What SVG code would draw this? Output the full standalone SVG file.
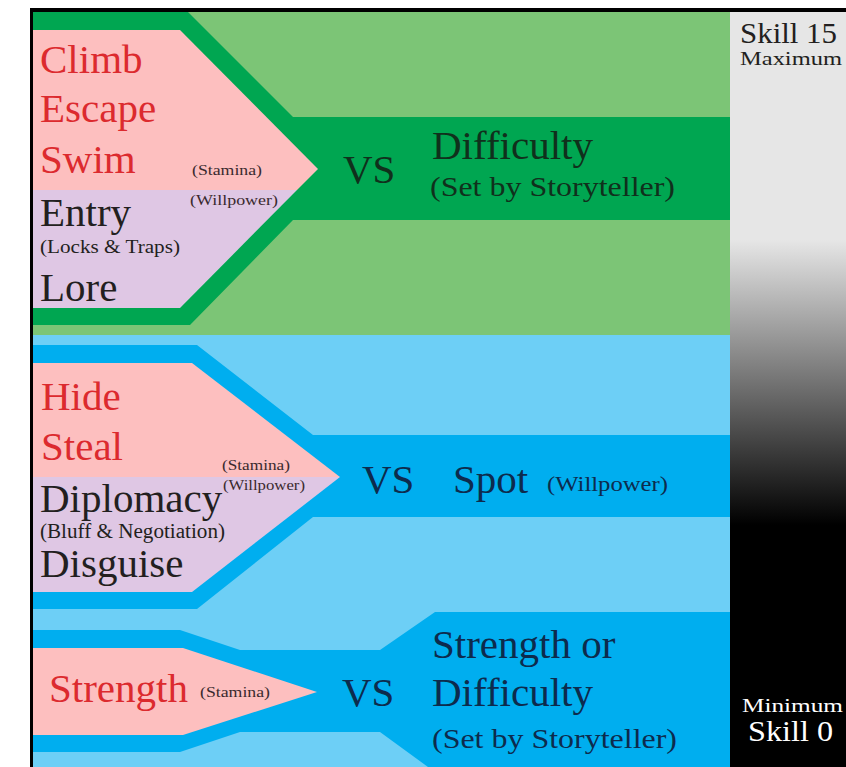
<svg xmlns="http://www.w3.org/2000/svg" width="846" height="767" viewBox="0 0 846 767">
<defs>
<linearGradient id="skillGrad" gradientUnits="userSpaceOnUse" x1="0" y1="240" x2="0" y2="525">
<stop offset="0" stop-color="#e6e6e6"/>
<stop offset="1" stop-color="#000000"/>
</linearGradient>
<style>
text{font-family:"Liberation Serif","Times New Roman",serif;}
.big{font-size:41px;}
.red{fill:#dc2a2e;}
.dk{fill:#231f20;}
.gtx{fill:#10301c;}
.btx{fill:#0d2b4d;}
.sm{font-size:15px;fill:#3a2a2e;}
.lg-green{fill:#7cc576;}
.dk-green{fill:#00a651;}
.lg-blue{fill:#6dcff6;}
.dk-blue{fill:#00aeef;}
.pink{fill:#fdbfbf;}
.lav{fill:#dfc7e4;}
</style>
</defs>
<rect x="0" y="0" width="846" height="767" fill="#ffffff"/>

<g id="backgrounds">
<rect class="lg-green" x="33" y="12" width="697" height="323"/>
<rect class="lg-blue" x="33" y="335" width="697" height="432"/>
</g>

<g id="connectors">
<polygon class="dk-green" points="33,12 188,12 293,117 730,117 730,220 293,220 190,325 33,325"/>
<polygon class="dk-blue" points="33,345 197,345 313,435 730,435 730,517 313,517 197,609 33,609"/>
<polygon class="dk-blue" points="33,630 180,630 240,650 380,650 435,612 730,612 730,767 428,767 380,732 240,732 180,752 33,752"/>
</g>

<g id="skills-physical">
<polygon class="pink" points="33,30 180,30 318,169 297,190 33,190"/>
<polygon class="lav" points="33,190 297,190 180,308 33,308"/>
<text class="big red" x="40" y="73">Climb</text>
<text class="big red" x="40" y="122">Escape</text>
<text class="big red" x="40" y="173">Swim</text>
<text class="sm" x="192" y="175" textLength="70" lengthAdjust="spacingAndGlyphs">(Stamina)</text>
<text class="sm" x="190" y="205" textLength="88" lengthAdjust="spacingAndGlyphs">(Willpower)</text>
<text class="big dk" x="40" y="226">Entry</text>
<text class="dk" x="40" y="253" font-size="19" textLength="140" lengthAdjust="spacingAndGlyphs">(Locks &amp; Traps)</text>
<text class="big dk" x="40" y="301">Lore</text>
</g>

<g id="opposition-difficulty">
<text class="big gtx" x="343" y="183">VS</text>
<text class="big gtx" x="432" y="159">Difficulty</text>
<text class="gtx" x="430" y="196" font-size="27" textLength="245" lengthAdjust="spacingAndGlyphs">(Set by Storyteller)</text>
</g>

<g id="skills-social">
<polygon class="pink" points="33,363 192,363 340,477 33,477"/>
<polygon class="lav" points="33,477 340,477 192,592 33,592"/>
<text class="big red" x="41" y="410">Hide</text>
<text class="big red" x="41" y="460">Steal</text>
<text class="sm" x="222" y="470" textLength="68" lengthAdjust="spacingAndGlyphs">(Stamina)</text>
<text class="sm" x="223" y="490" textLength="82" lengthAdjust="spacingAndGlyphs">(Willpower)</text>
<text class="big dk" x="40" y="512">Diplomacy</text>
<text class="dk" x="40" y="538" font-size="20" textLength="185" lengthAdjust="spacingAndGlyphs">(Bluff &amp; Negotiation)</text>
<text class="big dk" x="40" y="577">Disguise</text>
</g>

<g id="opposition-spot">
<text class="big btx" x="362" y="493">VS</text>
<text class="big btx" x="453" y="493">Spot</text>
<text class="btx" x="547" y="491" font-size="21" textLength="121" lengthAdjust="spacingAndGlyphs">(Willpower)</text>
</g>

<g id="skills-strength">
<polygon class="pink" points="33,648 183,648 317,692 183,735 33,735"/>
<text class="big red" x="49" y="702">Strength</text>
<text class="sm" x="200" y="697" font-size="14" textLength="70" lengthAdjust="spacingAndGlyphs">(Stamina)</text>
</g>

<g id="opposition-strength">
<text class="big btx" x="342" y="706">VS</text>
<text class="big btx" x="432" y="658">Strength or</text>
<text class="big btx" x="432" y="706">Difficulty</text>
<text class="btx" x="432" y="748" font-size="27" textLength="245" lengthAdjust="spacingAndGlyphs">(Set by Storyteller)</text>
</g>

<g id="skill-scale">
<rect x="730" y="12" width="116" height="755" fill="url(#skillGrad)"/>
<text class="dk" x="740" y="43" font-size="29" textLength="97" lengthAdjust="spacingAndGlyphs">Skill 15</text>
<text class="dk" x="740" y="65" font-size="19" textLength="102" lengthAdjust="spacingAndGlyphs">Maximum</text>
<text x="742" y="712" font-size="19" fill="#ffffff" textLength="101" lengthAdjust="spacingAndGlyphs">Minimum</text>
<text x="748" y="741" font-size="30" fill="#ffffff" textLength="85" lengthAdjust="spacingAndGlyphs">Skill 0</text>
</g>

<g id="frame">
<rect x="30" y="8" width="816" height="4" fill="#000000"/>
<rect x="30" y="8" width="3" height="759" fill="#000000"/>
</g>
</svg>
